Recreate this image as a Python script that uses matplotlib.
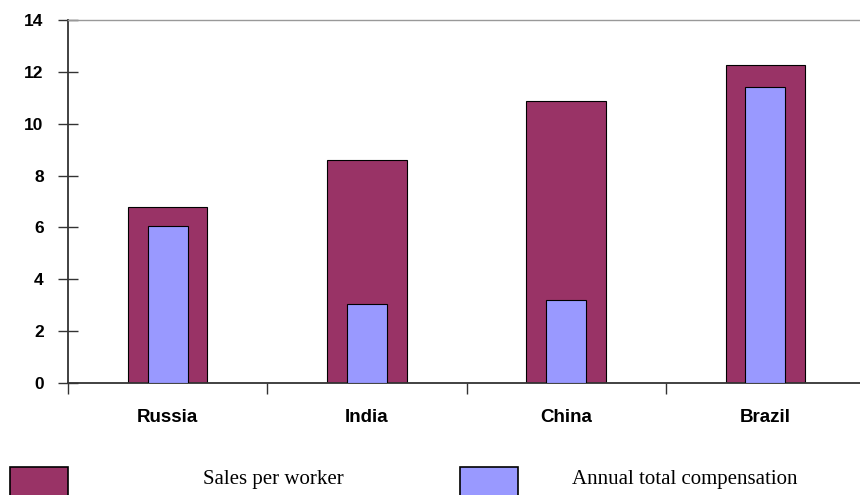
import matplotlib.pyplot as plt
import matplotlib.patches as mpatches
import numpy as np

countries = ["Russia", "India", "China", "Brazil"]
sales_per_worker = [6.78, 8.6, 10.88, 12.28]
annual_compensation = [6.07, 3.03, 3.22, 11.4]

maroon = "#993366"
lavender = "#9999ff"

fig = plt.figure(figsize=(8.6, 4.95), dpi=100)
ax = fig.add_axes([68 / 860, 112 / 495, 797 / 860, 363 / 495])

x = np.arange(len(countries))
ax.bar(x, sales_per_worker, width=0.4, color=maroon, edgecolor="black", linewidth=0.8, zorder=2)
ax.bar(x, annual_compensation, width=0.2, color=lavender, edgecolor="black", linewidth=0.8, zorder=3)

ax.set_xlim(-0.5, 3.5)
ax.set_ylim(0, 14)
ax.set_yticks(range(0, 15, 2))
ax.set_yticklabels([str(v) for v in range(0, 15, 2)], fontsize=12.5, fontweight="bold",
                   family="Liberation Sans")
ax.tick_params(axis="y", direction="inout", length=15, width=1, color="#333333", pad=10)

# category boundaries carry the ticks, names sit in between
ax.set_xticks(np.arange(-0.5, 3.6, 1.0))
ax.set_xticklabels([])
ax.set_xticks(x, minor=True)
ax.set_xticklabels(countries, minor=True, fontsize=13.5, fontweight="bold", family="Liberation Sans")
ax.tick_params(axis="x", which="major", direction="out", length=8, width=1, color="#333333")
ax.tick_params(axis="x", which="minor", length=0, pad=19)

for side in ["left", "bottom"]:
    ax.spines[side].set_color("#333333")
    ax.spines[side].set_linewidth(1.3)
ax.spines["top"].set_color("#999999")
ax.spines["top"].set_linewidth(1.0)
ax.spines["right"].set_visible(False)

# legend along the bottom edge
for x0, color, label, tx in [(10, maroon, "Sales per worker", 203),
                             (460, lavender, "Annual total compensation", 572)]:
    fig.patches.append(mpatches.Rectangle((x0 / 860, -5 / 495), 58 / 860, 33 / 495,
                                          transform=fig.transFigure, facecolor=color,
                                          edgecolor="black", linewidth=1.2))
    fig.text(tx / 860, 11 / 495, label, fontsize=15, family="Liberation Serif", va="baseline")

fig.savefig("out.png", dpi=100)
